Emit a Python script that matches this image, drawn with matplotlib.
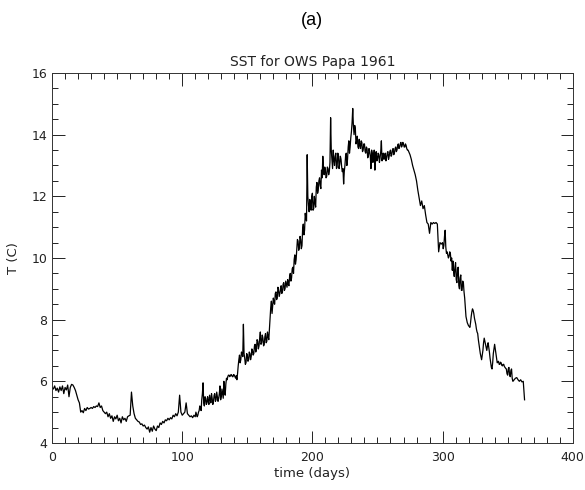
import matplotlib.pyplot as plt
import numpy as np
from matplotlib.ticker import MultipleLocator

# daily SST (deg C), day 0 .. 363
sst = [
    5.80, 5.75, 5.85, 5.70, 5.78, 5.65, 5.82, 5.70, 5.85, 5.60,  # 0
    5.80, 5.72, 5.88, 5.50, 5.80, 5.90, 5.88, 5.80, 5.70, 5.55,  # 10
    5.40, 5.30, 5.00, 5.05, 4.98, 5.12, 5.05, 5.15, 5.10, 5.12,  # 20
    5.15, 5.12, 5.18, 5.15, 5.20, 5.18, 5.30, 5.15, 5.20, 5.05,  # 30
    5.00, 4.95, 5.00, 4.85, 4.95, 4.80, 4.88, 4.70, 4.85, 4.78,  # 40
    4.90, 4.72, 4.80, 4.65, 4.85, 4.75, 4.80, 4.70, 4.85, 4.88,  # 50
    4.90, 5.65, 5.20, 4.95, 4.80, 4.75, 4.70, 4.68, 4.60, 4.62,  # 60
    4.55, 4.58, 4.50, 4.45, 4.52, 4.35, 4.50, 4.38, 4.55, 4.45,  # 70
    4.40, 4.55, 4.50, 4.65, 4.60, 4.70, 4.65, 4.75, 4.72, 4.80,  # 80
    4.75, 4.82, 4.78, 4.90, 4.85, 4.95, 4.88, 5.00, 5.55, 5.00,  # 90
    4.90, 4.95, 5.00, 5.30, 4.95, 4.90, 4.85, 4.88, 4.82, 4.90,  # 100
    4.85, 4.92, 4.90, 5.05, 5.15, 5.40, 5.95, 5.20, 5.45, 5.30,  # 110
    5.35, 5.55, 5.30, 5.45, 5.35, 5.60, 5.40, 5.50, 5.45, 5.85,  # 120
    5.50, 5.60, 6.00, 5.55, 6.10, 6.15, 6.20, 6.18, 6.20, 6.15,  # 130
    6.20, 6.10, 6.05, 6.50, 6.85, 6.70, 6.90, 7.85, 6.75, 6.60,  # 140
    6.85, 6.70, 6.90, 6.80, 7.00, 6.90, 7.20, 7.05, 7.30, 7.15,  # 150
    7.60, 7.25, 7.40, 7.20, 7.55, 7.30, 7.45, 7.70, 8.40, 8.20,  # 160
    8.70, 8.50, 8.90, 8.70, 9.00, 8.85, 9.10, 8.90, 9.20, 9.00,  # 170
    9.15, 9.30, 9.10, 9.50, 9.35, 9.70, 9.95, 9.80, 10.30, 10.55,  # 180
    10.35, 10.60, 10.40, 11.10, 10.90, 11.30, 13.35, 11.70, 11.90, 11.55,  # 190
    12.10, 11.60, 11.80, 12.30, 12.10, 12.50, 12.35, 12.85, 13.30, 12.70,  # 200
    12.85, 12.65, 12.90, 12.80, 14.55, 13.20, 13.50, 13.00, 13.40, 12.95,  # 210
    13.35, 13.05, 13.20, 12.80, 12.40, 13.00, 13.40, 13.20, 13.80, 13.60,  # 220
    14.10, 14.85, 14.00, 14.20, 13.80, 13.60, 13.85, 13.55, 13.75, 13.50,  # 230
    13.70, 13.40, 13.55, 13.30, 13.45, 12.90, 13.40, 13.25, 12.85, 13.45,  # 240
    13.20, 13.35, 13.25, 13.80, 13.30, 13.20, 13.40, 13.25, 13.45, 13.30,  # 250
    13.50, 13.35, 13.55, 13.40, 13.60, 13.50, 13.70, 13.60, 13.75, 13.65,  # 260
    13.70, 13.60, 13.65, 13.50, 13.45, 13.35, 13.20, 13.00, 12.85, 12.70,  # 270
    12.50, 12.20, 11.95, 11.70, 11.85, 11.60, 11.70, 11.40, 11.15, 11.10,  # 280
    10.80, 11.15, 11.10, 11.15, 11.12, 11.15, 11.10, 10.20, 10.50, 10.45,  # 290
    10.50, 10.40, 10.90, 10.15, 10.10, 10.05, 10.15, 10.00, 9.90, 9.40,  # 300
    9.85, 9.20, 9.70, 9.00, 9.45, 8.95, 9.20, 8.70, 8.10, 7.90,  # 310
    7.80, 7.75, 8.10, 8.35, 8.20, 7.95, 7.70, 7.55, 7.20, 6.90,  # 320
    6.70, 7.00, 7.40, 7.20, 7.00, 7.25, 6.95, 6.60, 6.40, 6.90,  # 330
    7.20, 6.90, 6.60, 6.65, 6.55, 6.60, 6.50, 6.55, 6.45, 6.40,  # 340
    6.20, 6.45, 6.15, 6.40, 6.00, 6.05, 6.10, 6.12, 6.05, 6.00,  # 350
    6.05, 5.98, 6.00, 5.40,  # 360
]

# extra half-day readings in the noisy stretches (day 110.5 .. 274.5)
sst_half_summer = [
    5.00, 4.85, 5.00, 5.20, 5.05, 5.60, 5.30, 5.50, 5.25, 5.50,  # 110.5
    5.25, 5.40, 5.60, 5.25, 5.55, 5.35, 5.65, 5.35, 5.60, 5.40,  # 120.5
    5.75, 5.45, 5.70, 5.90, 6.05, 6.20, 6.15, 6.22, 6.15, 6.22,  # 130.5
    6.15, 6.18, 6.25, 6.70, 6.60, 6.95, 6.80, 6.90, 6.55, 6.90,  # 140.5
    6.65, 6.95, 6.70, 7.05, 6.85, 7.15, 6.95, 7.35, 7.05, 7.40,  # 150.5
    7.20, 7.50, 7.15, 7.45, 7.25, 7.60, 7.35, 8.10, 8.60, 8.45,  # 160.5
    8.55, 8.85, 8.65, 9.05, 8.75, 8.95, 8.85, 9.15, 8.95, 9.25,  # 170.5
    9.05, 9.15, 9.40, 9.25, 9.65, 9.50, 10.10, 9.95, 10.60, 10.25,  # 180.5
    10.70, 10.30, 10.95, 10.75, 11.45, 11.20, 12.00, 11.50, 11.70, 12.00,  # 190.5
    11.55, 12.00, 11.65, 12.45, 12.20, 12.60, 12.25, 12.60, 12.90, 12.95,  # 200.5
    12.60, 12.95, 12.70, 13.10, 13.50, 12.90, 13.20, 13.30, 12.90, 13.40,  # 210.5
    12.90, 13.30, 12.95, 12.90, 12.80, 13.30, 13.00, 13.60, 13.40, 13.90,  # 220.5
    14.40, 14.30, 14.30, 13.70, 13.95, 13.55, 13.65, 13.80, 13.45, 13.70,  # 230.5
    13.45, 13.60, 13.25, 13.55, 13.30, 13.50, 13.10, 13.50, 13.30, 13.15,  # 240.5
    13.40, 13.10, 13.45, 13.15, 13.40, 13.35, 13.15, 13.40, 13.20, 13.45,  # 250.5
    13.30, 13.50, 13.35, 13.55, 13.45, 13.65, 13.55, 13.70, 13.60, 13.75,  # 260.5
    13.60, 13.70, 13.55, 13.50, 13.40,  # 270.5
]
summer_start = 110.5

# extra half-day readings in the autumn cooling (day 300.5 .. 354.5)
sst_half_autumn = [
    10.30, 10.70, 10.35, 10.20, 10.00, 10.20, 9.90, 9.60, 9.55, 9.70,  # 300.5
    9.30, 9.65, 9.10, 9.35, 8.95, 9.25, 8.90, 8.40, 8.00, 7.85,  # 310.5
    7.78, 7.90, 8.25, 8.30, 8.05, 7.85, 7.60, 7.35, 7.05, 6.80,  # 320.5
    6.85, 7.25, 7.30, 7.10, 7.15, 7.10, 6.75, 6.45, 6.60, 7.05,  # 330.5
    7.05, 6.75, 6.62, 6.55, 6.62, 6.52, 6.55, 6.48, 6.42, 6.25,  # 340.5
    6.40, 6.20, 6.35, 6.10, 6.02,  # 350.5
]
autumn_start = 300.5

days = np.arange(len(sst))
days_summer = summer_start + np.arange(len(sst_half_summer))
days_autumn = autumn_start + np.arange(len(sst_half_autumn))

t_all = np.concatenate([days, days_summer, days_autumn])
v_all = np.concatenate([sst, sst_half_summer, sst_half_autumn])
order = np.argsort(t_all, kind="stable")

x_ticks = [0, 100, 200, 300, 400]
y_ticks = [4, 6, 8, 10, 12, 14, 16]

plt.rcParams["font.family"] = "DejaVu Sans"

fig = plt.figure(figsize=(5.85, 4.9), dpi=100)
ax = fig.add_axes([0.089, 0.096, 0.890, 0.755])

ax.plot(t_all[order], v_all[order], color="black", lw=0.9)

ax.set_xlim(0, 400)
ax.set_ylim(4, 16)
ax.set_xticks(x_ticks)
ax.set_yticks(y_ticks)
ax.xaxis.set_minor_locator(MultipleLocator(10))
ax.yaxis.set_minor_locator(MultipleLocator(0.5))
ax.tick_params(which="both", direction="in", top=True, right=True, width=0.7,
               labelsize=9, colors="#222222")
ax.tick_params(axis="x", which="major", length=9, pad=6)
ax.tick_params(axis="y", which="major", length=9, pad=3.5)
ax.tick_params(which="minor", length=4)
for s in ax.spines.values():
    s.set_linewidth(0.7)
    s.set_color("#333333")

ax.set_title("SST for OWS Papa 1961", fontsize=10, color="#222222", pad=5)
ax.set_xlabel("time (days)", fontsize=9.5, color="#222222", labelpad=2)
ax.set_ylabel("T (C)", fontsize=9.5, color="#222222", labelpad=8)

fig.text(0.533, 0.958, "(a)", ha="center", va="center",
         fontsize=13, family="Liberation Sans")

fig.savefig("out.png", dpi=100)
